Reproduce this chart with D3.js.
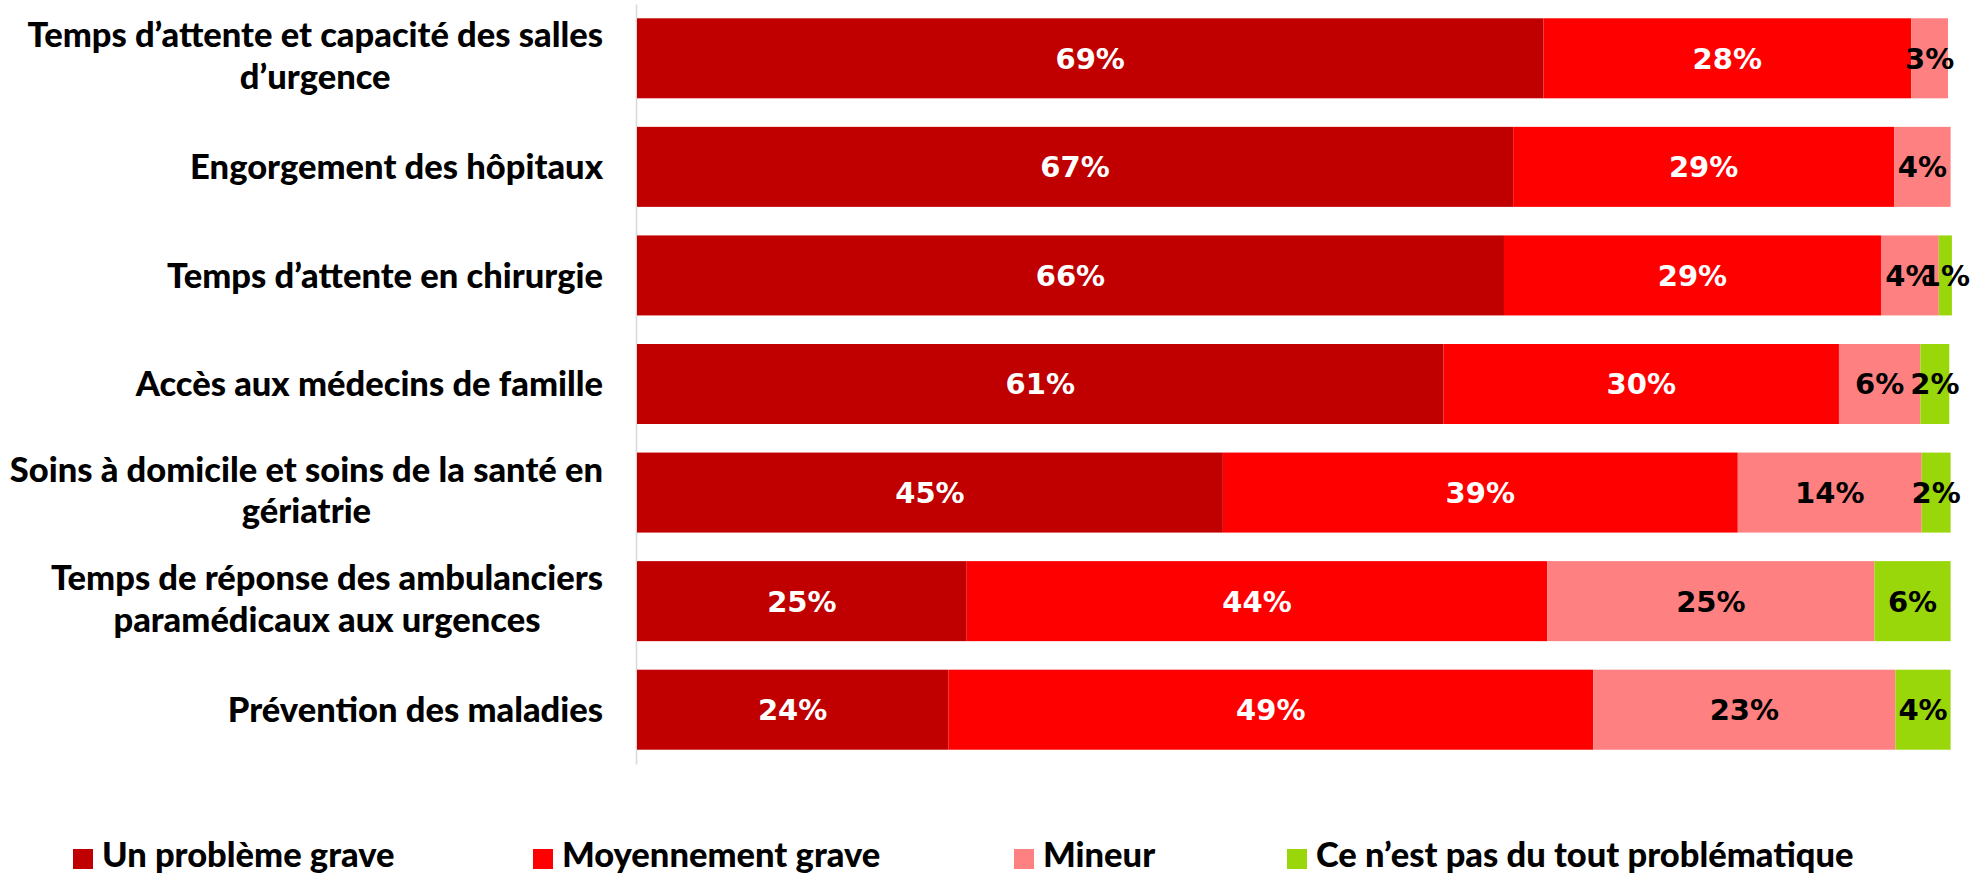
<!DOCTYPE html>
<html>
<head>
<meta charset="utf-8">
<script src="https://cdn.jsdelivr.net/npm/d3@7"></script>
<style>
  html, body { margin: 0; padding: 0; background: #fff; }
  svg { display: block; }
</style>
</head>
<body>
<svg id="chart" width="1979" height="873"></svg>
<script>
// ---- Data ----
const categories = [
  "Temps d’attente et capacité des salles\nd’urgence",
  "Engorgement des hôpitaux",
  "Temps d’attente en chirurgie",
  "Accès aux médecins de famille",
  "Soins à domicile et soins de la santé en\ngériatrie",
  "Temps de réponse des ambulanciers\nparamédicaux aux urgences",
  "Prévention des maladies"
];
const seriesNames = [
  "Un problème grave",
  "Moyennement grave",
  "Mineur",
  "Ce n’est pas du tout problématique"
];
const grave     = [69.0, 66.7, 66.0, 61.4, 44.6, 25.1, 23.7];
const moyen     = [28.0, 29.0, 28.7, 30.1, 39.2, 44.2, 49.1];
const mineur    = [2.8, 4.3, 4.4, 6.2, 14.0, 24.9, 23.0];
const pasDuTout = [0, 0, 1.0, 2.2, 2.2, 5.8, 4.2];

const seriesValues = [grave, moyen, mineur, pasDuTout];
const colors = ["#C00000", "#FF0000", "#FF8080", "#99D60A"];
const labelColors = ["#FFFFFF", "#FFFFFF", "#000000", "#000000"];

// ---- Layout ----
const svg = d3.select("#chart");
const catFont = "Lato, 'Open Sans', sans-serif";
const pctFont = "'DejaVu Sans', sans-serif";

const table = categories.map((c, i) => {
  const row = { cat: c };
  seriesNames.forEach((s, j) => row[s] = seriesValues[j][i]);
  return row;
});
const stacked = d3.stack().keys(seriesNames)(table);

const x = d3.scaleLinear().domain([0, 100]).range([637, 1950.6]);
const y = d3.scaleBand().domain(categories).range([4, 764])
  .paddingInner(0.263).paddingOuter(0.1316);

// axis line
const axisG = svg.append("g").attr("transform", "translate(636,0)")
  .call(d3.axisLeft(y).tickSize(0).tickFormat(""));
axisG.select(".domain").attr("stroke", "#D9D9D9").attr("stroke-width", 1.6);

// bars
const layers = svg.append("g").selectAll("g").data(stacked).join("g")
  .attr("fill", (d, i) => colors[i]);
layers.selectAll("rect").data(d => d).join("rect")
  .attr("x", d => x(d[0]))
  .attr("y", d => y(d.data.cat))
  .attr("width", d => Math.max(0, x(d[1]) - x(d[0])))
  .attr("height", y.bandwidth());

// value labels
const lab = svg.append("g");
stacked.forEach((layer, si) => {
  lab.selectAll(null).data(layer.filter(d => d[1] - d[0] > 0)).join("text")
    .attr("x", d => (x(d[0]) + x(d[1])) / 2)
    .attr("y", d => y(d.data.cat) + y.bandwidth() / 2)
    .attr("dy", "0.36em")
    .attr("text-anchor", "middle")
    .attr("font-family", pctFont)
    .attr("font-weight", "bold")
    .attr("font-size", 29)
    .attr("fill", labelColors[si])
    .text(d => Math.round(d[1] - d[0]) + "%");
});

// category labels
const catG = svg.append("g");
const labelRight = 603;
const lineH = 41.6;
categories.forEach(c => {
  const lines = c.split("\n");
  const t = catG.append("text")
    .attr("font-family", catFont)
    .attr("font-weight", 900)
    .attr("font-size", 34.5)
    .attr("fill", "#000")
    .attr("text-anchor", "middle");
  const cy = y(c) + y.bandwidth() / 2 - (lines.length > 1 ? 2.5 : 0);
  const spans = lines.map((ln, k) => t.append("tspan")
    .attr("y", cy + (k - (lines.length - 1) / 2) * lineH)
    .attr("dy", "0.36em")
    .text(ln));
  const maxW = d3.max(spans, s => s.node().getComputedTextLength());
  spans.forEach(s => s.attr("x", labelRight - maxW / 2));
});

// legend
const legendX = [73, 533, 1014, 1287];
const leg = svg.append("g");
seriesNames.forEach((s, i) => {
  leg.append("rect").attr("x", legendX[i]).attr("y", 849)
    .attr("width", 20).attr("height", 20).attr("fill", colors[i]);
  leg.append("text").attr("x", legendX[i] + 29).attr("y", 867)
    .attr("font-family", catFont).attr("font-weight", 900)
    .attr("font-size", 34.5).attr("fill", "#000").text(s);
});
</script>
</body>
</html>
